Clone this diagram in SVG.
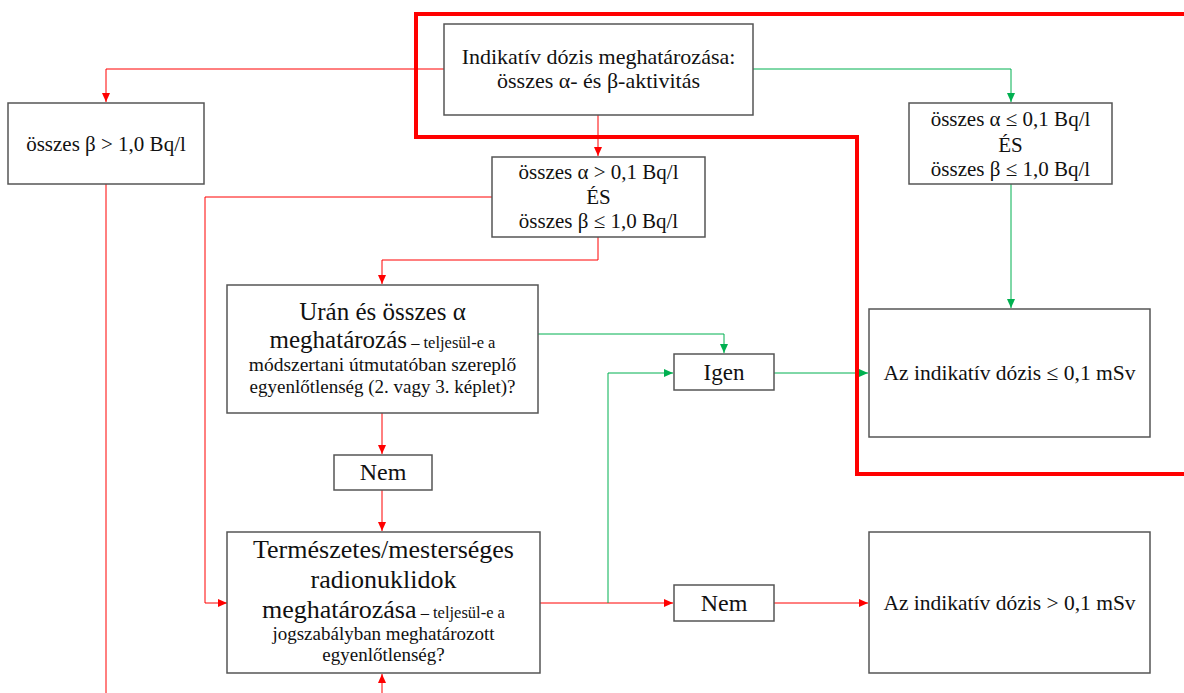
<svg xmlns="http://www.w3.org/2000/svg" width="1184" height="693" viewBox="0 0 1184 693">
<style>
.box{fill:#fff;stroke:#555;stroke-width:1.5}
.t{font-family:"Liberation Serif","DejaVu Serif",serif;fill:#111;text-anchor:middle}
.r{fill:none;stroke:#ff0000;stroke-width:1}
.g{fill:none;stroke:#00b050;stroke-width:1}
</style>
<defs>
<marker id="ar" markerWidth="10" markerHeight="8" refX="9" refY="4" orient="auto" markerUnits="userSpaceOnUse"><path d="M0,0 L9,4 L0,8 Z" fill="#ff0000"/></marker>
<marker id="ag" markerWidth="10" markerHeight="8" refX="9" refY="4" orient="auto" markerUnits="userSpaceOnUse"><path d="M0,0 L9,4 L0,8 Z" fill="#00b050"/></marker>
</defs>
<rect width="1184" height="693" fill="#fff"/>
<g id="connectors">
<path class="r" d="M444,69 H106 V102" marker-end="url(#ar)"/>
<path class="r" d="M106,184 V693"/>
<path class="r" d="M598,115 V156" marker-end="url(#ar)"/>
<path class="r" d="M492,197 H205 V603 H227" marker-end="url(#ar)"/>
<path class="r" d="M598,237 V260 H382 V284" marker-end="url(#ar)"/>
<path class="r" d="M382,413 V454" marker-end="url(#ar)"/>
<path class="r" d="M382,490 V531" marker-end="url(#ar)"/>
<path class="r" d="M382,693 V674" marker-end="url(#ar)"/>
<path class="r" d="M540,603 H673" marker-end="url(#ar)"/>
<path class="r" d="M774,603 H868" marker-end="url(#ar)"/>
<path class="g" d="M753,69 H1011 V102" marker-end="url(#ag)"/>
<path class="g" d="M1011,184 V308" marker-end="url(#ag)"/>
<path class="g" d="M538,334 H724 V353" marker-end="url(#ag)"/>
<path class="g" d="M608,603 V373 H673" marker-end="url(#ag)"/>
<path class="g" d="M774,373 H868" marker-end="url(#ag)"/>
</g>
<g id="outline">
<path d="M1184,14 H416 V137 H857 V474 H1184" fill="none" stroke="#ff0000" stroke-width="4"/>
</g>
<g id="n-top">
<rect class="box" x="444" y="24" width="309" height="91"/>
<text class="t" font-size="22"><tspan x="598.5" y="64">Indikatív dózis meghatározása:</tspan><tspan x="598.5" y="88">összes α- és β-aktivitás</tspan></text>
</g>
<g id="n-beta">
<rect class="box" x="8" y="103" width="196" height="81"/>
<text class="t" font-size="21" x="106" y="151">összes β &gt; 1,0 Bq/l</text>
</g>
<g id="n-mid">
<rect class="box" x="492" y="157" width="213" height="80"/>
<text class="t" font-size="21"><tspan x="598.5" y="179">összes α &gt; 0,1 Bq/l</tspan><tspan x="598.5" y="204">ÉS</tspan><tspan x="598.5" y="228">összes β ≤ 1,0 Bq/l</tspan></text>
</g>
<g id="n-right">
<rect class="box" x="909" y="103" width="203" height="81"/>
<text class="t" font-size="21"><tspan x="1010.5" y="126">összes α ≤ 0,1 Bq/l</tspan><tspan x="1010.5" y="152">ÉS</tspan><tspan x="1010.5" y="176">összes β ≤ 1,0 Bq/l</tspan></text>
</g>
<g id="n-uran">
<rect class="box" x="227" y="285" width="311" height="128"/>
<text class="t"><tspan x="382.5" y="320" font-size="25">Urán és összes α</tspan><tspan x="382.5" y="348"><tspan font-size="25">meghatározás</tspan><tspan font-size="16.5"> – teljesül-e a</tspan></tspan><tspan x="382.5" y="371" font-size="19.5">módszertani útmutatóban szereplő</tspan><tspan x="382.5" y="393" font-size="19">egyenlőtlenség (2. vagy 3. képlet)?</tspan></text>
</g>
<g id="n-nem1">
<rect class="box" x="334" y="455" width="98" height="35"/>
<text class="t" font-size="24" x="383" y="480">Nem</text>
</g>
<g id="n-term">
<rect class="box" x="227" y="532" width="313" height="141"/>
<text class="t"><tspan x="383.5" y="558" font-size="26">Természetes/mesterséges</tspan><tspan x="383.5" y="588" font-size="26">radionuklidok</tspan><tspan x="383.5" y="618"><tspan font-size="26">meghatározása</tspan><tspan font-size="16.5"> – teljesül-e a</tspan></tspan><tspan x="383.5" y="640" font-size="19">jogszabályban meghatározott</tspan><tspan x="383.5" y="661" font-size="19">egyenlőtlenség?</tspan></text>
</g>
<g id="n-igen">
<rect class="box" x="674" y="354" width="100" height="36"/>
<text class="t" font-size="23" x="724" y="380">Igen</text>
</g>
<g id="n-nem2">
<rect class="box" x="674" y="585" width="100" height="36"/>
<text class="t" font-size="24" x="724" y="611">Nem</text>
</g>
<g id="n-le">
<rect class="box" x="869" y="309" width="281" height="128"/>
<text class="t" font-size="21.5" x="1009.5" y="380">Az indikatív dózis ≤ 0,1 mSv</text>
</g>
<g id="n-gt">
<rect class="box" x="869" y="532" width="281" height="141"/>
<text class="t" font-size="21.5" x="1009.5" y="610">Az indikatív dózis &gt; 0,1 mSv</text>
</g>
</svg>
